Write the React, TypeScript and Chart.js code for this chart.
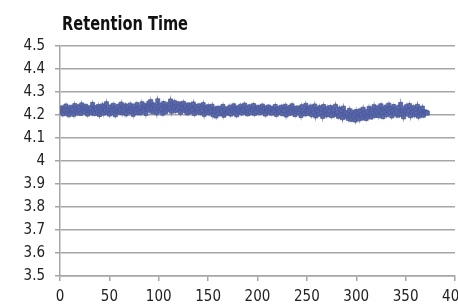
import React, { useEffect, useRef } from "react";
import { Chart, registerables } from "chart.js";

Chart.register(...registerables);

const chartTitle = "Retention Time";
const xMin = 0;
const xMax = 400;
const xStep = 50;
const yMin = 3.5;
const yMax = 4.5;
const yStep = 0.1;

const retentionTimes: number[] = [
  4.212, 4.231, 4.205, 4.226, 4.218, 4.239, 4.208, 4.222, 4.201, 4.229,
  4.234, 4.211, 4.225, 4.203, 4.241, 4.216, 4.228, 4.209, 4.236, 4.219,
  4.207, 4.244, 4.221, 4.232, 4.213, 4.238, 4.226, 4.204, 4.231, 4.217,
  4.229, 4.210, 4.246, 4.219, 4.206, 4.233, 4.224, 4.212, 4.237, 4.202,
  4.227, 4.215, 4.240, 4.208, 4.231, 4.221, 4.249, 4.211, 4.226, 4.204,
  4.235, 4.218, 4.209, 4.242, 4.223, 4.201, 4.230, 4.216, 4.238, 4.212,
  4.221, 4.247, 4.210, 4.233, 4.219, 4.240, 4.205, 4.228, 4.236, 4.214,
  4.243, 4.217, 4.229, 4.203, 4.238, 4.222, 4.211, 4.245, 4.226, 4.209,
  4.234, 4.212, 4.249, 4.225, 4.218, 4.241, 4.207, 4.236, 4.229, 4.252,
  4.221, 4.258, 4.230, 4.214, 4.244, 4.227, 4.239, 4.210, 4.262, 4.235,
  4.218, 4.243, 4.226, 4.208, 4.250, 4.233, 4.215, 4.239, 4.222, 4.247,
  4.229, 4.261, 4.216, 4.243, 4.232, 4.254, 4.219, 4.238, 4.225, 4.249,
  4.236, 4.212, 4.246, 4.228, 4.251, 4.219, 4.240, 4.223, 4.209, 4.244,
  4.233, 4.215, 4.242, 4.221, 4.248, 4.207, 4.230, 4.238, 4.214, 4.226,
  4.240, 4.211, 4.229, 4.219, 4.245, 4.203, 4.232, 4.224, 4.213, 4.236,
  4.209, 4.231, 4.214, 4.238, 4.201, 4.225, 4.217, 4.196, 4.229, 4.220,
  4.230, 4.205, 4.222, 4.212, 4.237, 4.199, 4.218, 4.227, 4.208, 4.224,
  4.213, 4.234, 4.204, 4.226, 4.219, 4.240, 4.210, 4.228, 4.201, 4.225,
  4.232, 4.215, 4.238, 4.209, 4.227, 4.220, 4.243, 4.212, 4.229, 4.205,
  4.218, 4.236, 4.211, 4.230, 4.222, 4.241, 4.207, 4.226, 4.215, 4.234,
  4.225, 4.210, 4.233, 4.219, 4.239, 4.213, 4.228, 4.204, 4.231, 4.218,
  4.235, 4.212, 4.226, 4.208, 4.230, 4.221, 4.214, 4.237, 4.203, 4.224,
  4.211, 4.229, 4.216, 4.234, 4.206, 4.223, 4.219, 4.238, 4.200, 4.227,
  4.222, 4.207, 4.233, 4.214, 4.240, 4.210, 4.226, 4.202, 4.229, 4.215,
  4.231, 4.209, 4.224, 4.198, 4.236, 4.213, 4.220, 4.205, 4.242, 4.217,
  4.206, 4.228, 4.213, 4.235, 4.201, 4.222, 4.210, 4.239, 4.196, 4.224,
  4.218, 4.203, 4.232, 4.209, 4.226, 4.194, 4.237, 4.212, 4.221, 4.200,
  4.229, 4.205, 4.218, 4.233, 4.197, 4.215, 4.224, 4.202, 4.238, 4.207,
  4.213, 4.194, 4.226, 4.200, 4.219, 4.188, 4.230, 4.203, 4.211, 4.192,
  4.207, 4.185, 4.220, 4.196, 4.181, 4.212, 4.193, 4.204, 4.178, 4.215,
  4.190, 4.209, 4.183, 4.218, 4.199, 4.187, 4.225, 4.196, 4.206, 4.185,
  4.214, 4.195, 4.229, 4.203, 4.191, 4.222, 4.208, 4.236, 4.198, 4.216,
  4.205, 4.231, 4.197, 4.219, 4.240, 4.209, 4.193, 4.226, 4.212, 4.234,
  4.201, 4.222, 4.243, 4.210, 4.228, 4.196, 4.218, 4.237, 4.206, 4.225,
  4.215, 4.199, 4.233, 4.208, 4.246, 4.202, 4.221, 4.192, 4.229, 4.211,
  4.236, 4.204, 4.219, 4.241, 4.197, 4.226, 4.212, 4.232, 4.201, 4.223,
  4.208, 4.238, 4.195, 4.217, 4.226, 4.203, 4.230, 4.199, 4.214, 4.209,
  4.212, 4.208,
];

const injectionNumbers: number[] = retentionTimes.map((_, i) => i + 1);

const FONT = "'DejaVu Sans Condensed', 'Liberation Sans', sans-serif";

const titlePlugin = {
  id: "leftTitle",
  afterDraw(chart: any) {
    const { ctx, chartArea } = chart;
    ctx.save();
    ctx.font = `bold 19px ${FONT}`;
    ctx.fillStyle = "#111111";
    ctx.textAlign = "left";
    ctx.textBaseline = "middle";
    const w = ctx.measureText(chartTitle).width;
    const sx = Math.min(1, 126 / w);
    ctx.translate(chartArea.left + 2, 25);
    ctx.scale(sx, 1);
    ctx.fillText(chartTitle, 0, 0);
    ctx.restore();
  },
};

export default function App() {
  const canvasRef = useRef<HTMLCanvasElement | null>(null);

  useEffect(() => {
    if (!canvasRef.current) return;
    const points = injectionNumbers.map((x, i) => ({ x, y: retentionTimes[i] }));
    const chart = new Chart(canvasRef.current, {
      type: "scatter",
      data: {
        datasets: [
          {
            label: chartTitle,
            data: points,
            showLine: true,
            borderColor: "#5565a8",
            borderWidth: 1.5,
            pointStyle: "rect",
            pointRadius: 2.8,
            pointBackgroundColor: "#5a6aae",
            pointBorderColor: "#4b5a9c",
            pointBorderWidth: 0.8,
          },
        ],
      },
      options: {
        animation: false,
        responsive: true,
        maintainAspectRatio: false,
        layout: { padding: { top: 46, right: 15, left: 0, bottom: 0 } },
        plugins: {
          legend: { display: false },
          tooltip: { enabled: false },
          title: { display: false },
        },
        scales: {
          x: {
            type: "linear",
            min: xMin,
            max: xMax,
            border: { color: "#a6a6a6", width: 1.5 },
            grid: {
              display: true,
              drawOnChartArea: false,
              drawTicks: true,
              tickLength: 5,
              color: "#a6a6a6",
              lineWidth: 1.5,
            },
            ticks: {
              stepSize: xStep,
              color: "#222222",
              font: { family: FONT, size: 15 },
              padding: 7,
              maxRotation: 0,
            },
            afterFit: (s: any) => {
              s.height = 31;
              s.paddingLeft = 0;
              s.paddingRight = 0;
            },
          },
          y: {
            type: "linear",
            min: yMin,
            max: yMax,
            border: { color: "#a6a6a6", width: 1.5 },
            grid: {
              color: "#a6a6a6",
              lineWidth: 1.5,
              tickLength: 5,
            },
            ticks: {
              stepSize: yStep,
              color: "#222222",
              font: { family: FONT, size: 15 },
              padding: 10,
              callback: (v: any) => String(Number(Number(v).toFixed(1))),
            },
            afterFit: (s: any) => {
              s.width = 60;
            },
          },
        },
      },
      plugins: [titlePlugin],
    });
    return () => chart.destroy();
  }, []);

  return (
    <div style={{ position: "fixed", left: 0, top: 0, width: 458, height: 307, overflow: "hidden", background: "#fff" }}>
      <div style={{ position: "relative", width: 470, height: 307 }}>
        <canvas ref={canvasRef} />
      </div>
    </div>
  );
}
